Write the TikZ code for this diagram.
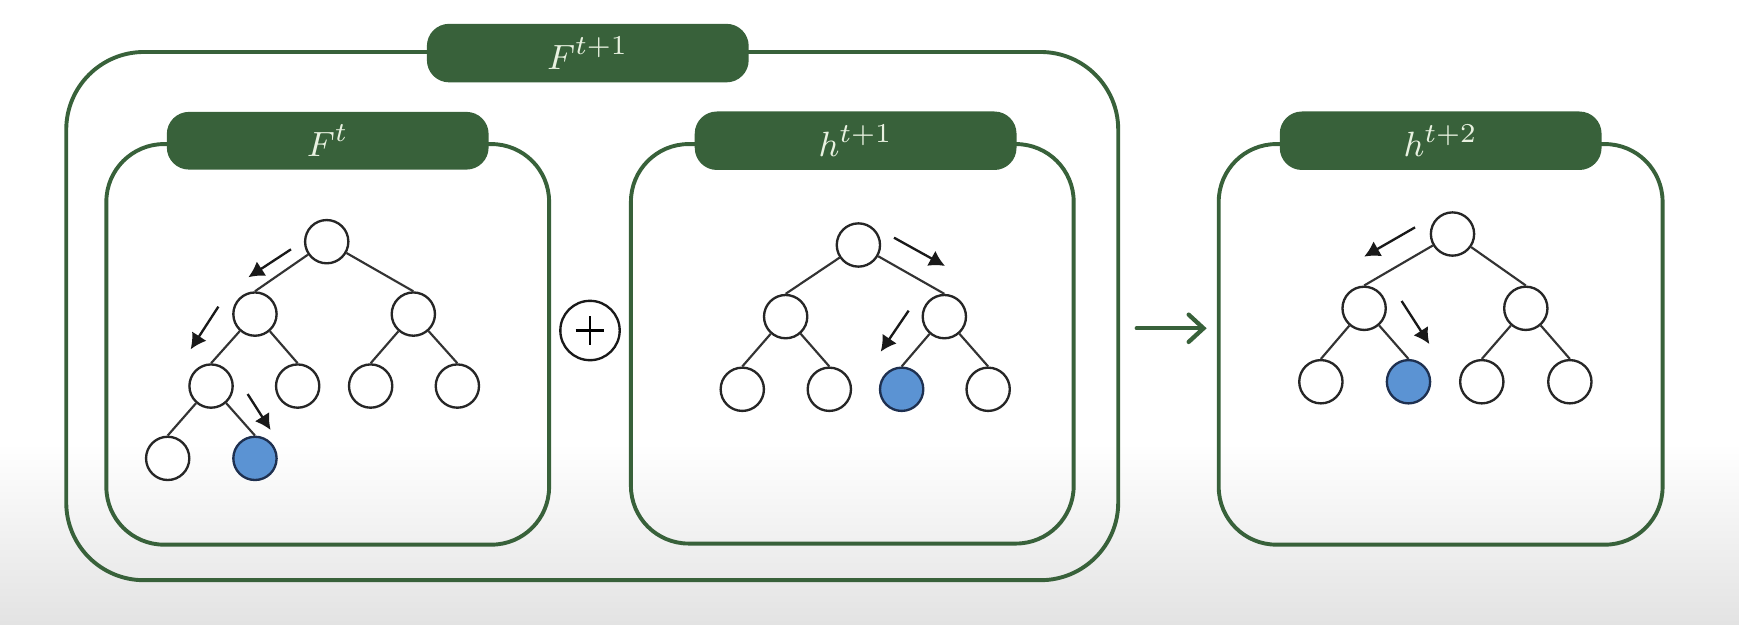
\documentclass[tikz,border=0pt]{standalone}
\usepackage{tikz}
\usetikzlibrary{calc,positioning,arrows.meta}
\definecolor{boxgreen}{RGB}{56,97,58}
\definecolor{labeltext}{RGB}{232,241,224}
\definecolor{leafblue}{RGB}{91,147,211}
\definecolor{leafedge}{RGB}{30,48,80}

\begin{document}
\begin{tikzpicture}[x=0.01cm,y=-0.01cm]

    \tikzstyle{frame}=[draw=boxgreen,line width=1pt,outer sep=0pt,inner sep=0pt]
    \tikzstyle{tag}=[fill=boxgreen,draw=none,rounded corners=0.2cm,minimum width=2.9cm,minimum height=0.5cm,text=labeltext,font=\fontsize{9.5}{11}\selectfont]
    \tikzstyle{knot}=[circle,draw=black!85,fill=white,line width=0.6pt,minimum size=0.39cm,inner sep=0pt]
    \tikzstyle{hit}=[knot,fill=leafblue,draw=leafedge]
    \tikzstyle{branch}=[line width=0.55pt,draw=black!80]
    \tikzstyle{walk}=[line width=0.6pt,draw=black!90,-{Latex[length=4pt,width=4.4pt]}]
    \tikzstyle{push}=[draw=boxgreen,line width=1.1pt,line cap=round,-{Straight Barb[length=3.8pt,width=7pt,line cap=round]}]

    \useasboundingbox (0,0) rectangle (1568,563);
    \fill [white] (0,0) rectangle (1568,563);
    \shade [top color=white,bottom color=gray!22] (0,400) rectangle (1568,563);

% boxes
\node (box_f1) [frame,rounded corners=0.7cm,minimum width=9.48cm,minimum height=4.76cm] at (534,285) {};
\node (box_ft) [frame,rounded corners=0.52cm,minimum width=3.99cm,minimum height=3.61cm] at (295.5,310.5) {};
\node (box_h1) [frame,rounded corners=0.52cm,minimum width=3.99cm,minimum height=3.60cm] at (768.5,310) {};
\node (box_h2) [frame,rounded corners=0.52cm,minimum width=4.0cm,minimum height=3.61cm] at (1299,310.5) {};

\node (tag_f1) [tag] at ($(box_f1.north)+(-4,1)$) {$F^{t+1}$};
\node (tag_ft) [tag] at ($(box_ft.north)+(0,-3)$) {$F^{t}$};
\node (tag_h1) [tag] at ($(box_h1.north)+(3,-3)$) {$h^{t+1}$};
\node (tag_h2) [tag] at ($(box_h2.north)+(0,-3)$) {$h^{t+2}$};

\node (plus) [circle,draw=black!90,line width=0.6pt,minimum size=0.535cm,inner sep=0pt] at (532,298) {};
\draw [line width=0.6pt] ($(plus.center)+(-13,0)$) -- ($(plus.center)+(13,0)$);
\draw [line width=0.6pt] ($(plus.center)+(0,-13)$) -- ($(plus.center)+(0,13)$);

\coordinate (push_from) at (1025,296);
\coordinate (push_to) at (1088,296);
\draw [push] (push_from) -- (push_to);

% tree F^t
\node (a0) [knot] at (294.6,217.9) {};
\node (a1) [knot] at (229.9,283.2) {};
\node (a2) [knot] at (372.7,283.2) {};
\node (a3) [knot] at (190.3,348.1) {};
\node (a4) [knot] at (268.4,348.1) {};
\node (a5) [knot] at (334.2,348.1) {};
\node (a6) [knot] at (412.4,348.1) {};
\node (a7) [knot] at (151.2,413.3) {};
\node (a8) [hit] at (229.9,413.3) {};
\draw [branch] (a0) -- (a1.north) (a0) -- (a2.north) (a1) -- (a3.north) (a1) -- (a4.north)
               (a2) -- (a5.north) (a2) -- (a6.north) (a3) -- (a7.north) (a3) -- (a8.north);

\coordinate (wa1s) at (262.4,224.8); \coordinate (wa1e) at (223.9,250);
\coordinate (wa2s) at (196.9,276.5); \coordinate (wa2e) at (171.9,315);
\coordinate (wa3s) at (223.3,355.3); \coordinate (wa3e) at (244,387.7);
\draw [walk] (wa1s) -- (wa1e);
\draw [walk] (wa2s) -- (wa2e);
\draw [walk] (wa3s) -- (wa3e);

% tree h^{t+1}
\node (b0) [knot] at (774,220.9) {};
\node (b1) [knot] at (708.4,285.5) {};
\node (b2) [knot] at (851.5,285.5) {};
\node (b3) [knot] at (669.3,351) {};
\node (b4) [knot] at (747.8,351) {};
\node (b5) [hit] at (813,351) {};
\node (b6) [knot] at (891,351) {};
\draw [branch] (b0) -- (b1.north) (b0) -- (b2.north) (b1) -- (b3.north) (b1) -- (b4.north)
               (b2) -- (b5.north) (b2) -- (b6.north);

\coordinate (wb1s) at (806.1,214.3); \coordinate (wb1e) at (852.1,239.8);
\coordinate (wb2s) at (819.3,280.1); \coordinate (wb2e) at (794.1,317.1);
\draw [walk] (wb1s) -- (wb1e);
\draw [walk] (wb2s) -- (wb2e);

% tree h^{t+2}
\node (c0) [knot] at (1309.7,211) {};
\node (c1) [knot] at (1230,278) {};
\node (c2) [knot] at (1375.8,278) {};
\node (c3) [knot] at (1191,344.2) {};
\node (c4) [hit] at (1270,344.2) {};
\node (c5) [knot] at (1336.1,344.2) {};
\node (c6) [knot] at (1415.5,344.2) {};
\draw [branch] (c0) -- (c1.north) (c0) -- (c2.north) (c1) -- (c3.north) (c1) -- (c4.north)
               (c2) -- (c5.north) (c2) -- (c6.north);

\coordinate (wc1s) at (1275.9,205); \coordinate (wc1e) at (1230,231.4);
\coordinate (wc2s) at (1263.8,271.4); \coordinate (wc2e) at (1288.8,310.2);
\draw [walk] (wc1s) -- (wc1e);
\draw [walk] (wc2s) -- (wc2e);

\end{tikzpicture}
\end{document}
